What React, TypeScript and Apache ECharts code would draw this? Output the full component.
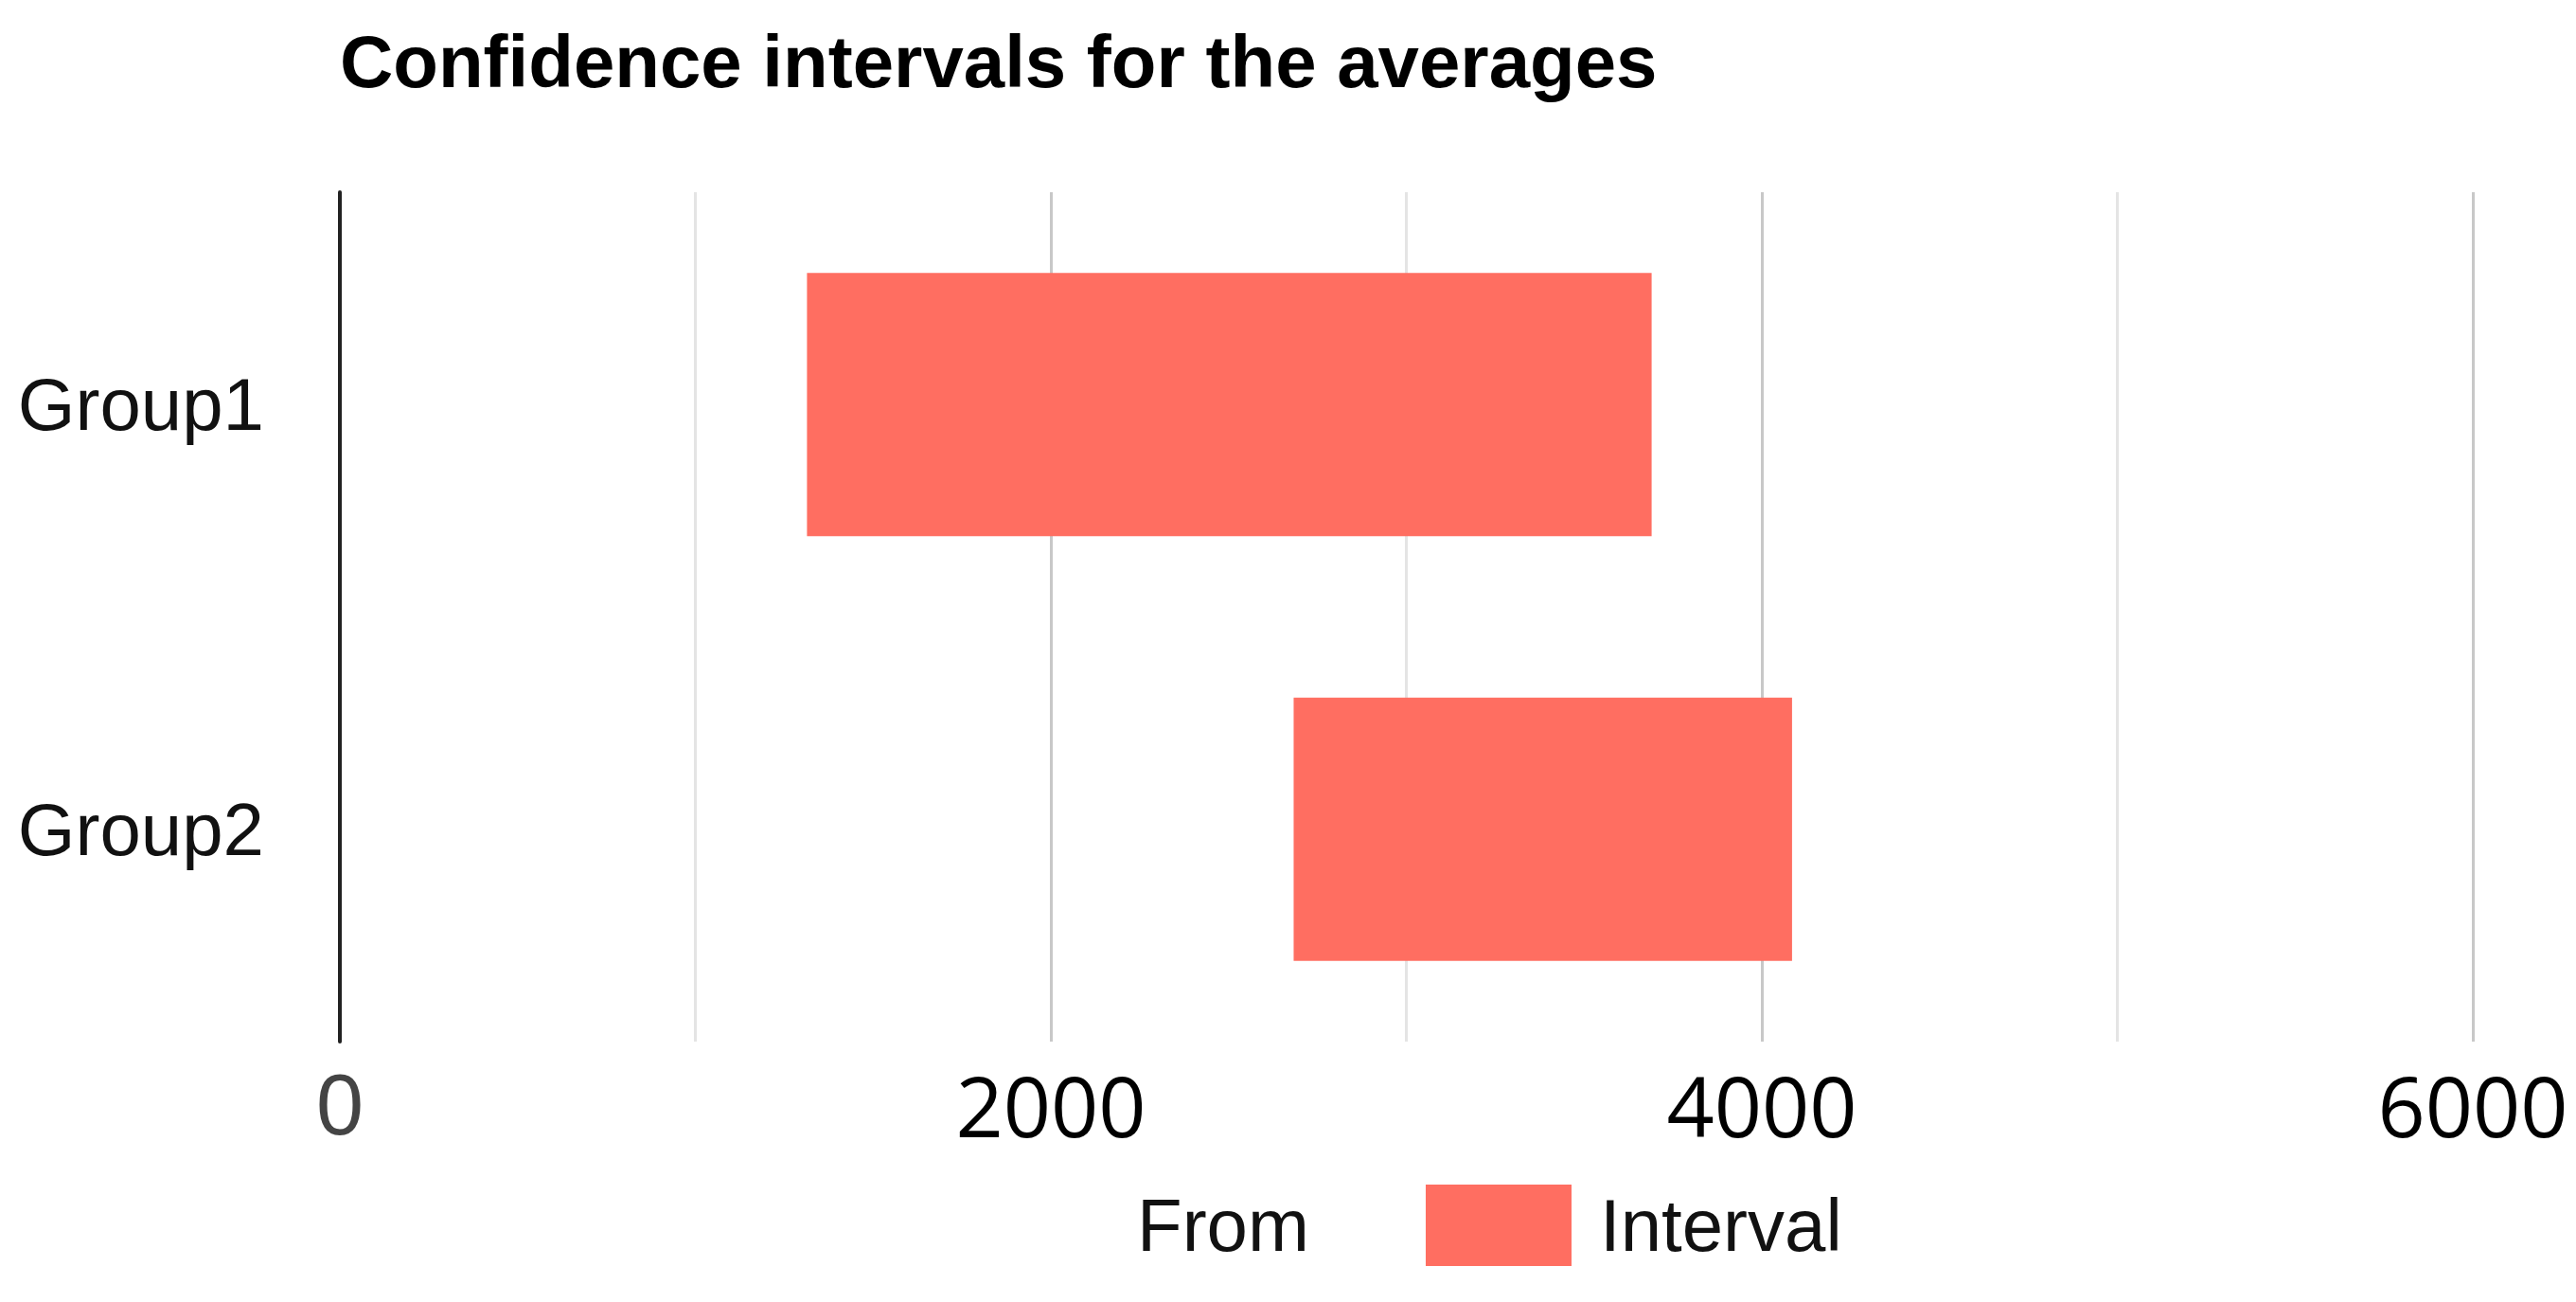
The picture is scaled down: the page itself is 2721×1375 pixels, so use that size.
import React, { useEffect, useRef } from "react";
import * as echarts from "echarts";

const categories = ["Group1", "Group2"];
const fromValues = [1314, 2683];
const intervalValues = [2376, 1402];
const shownTicks = [0, 2000, 4000, 6000];
const titleText = "Confidence intervals for the averages";
const seriesNames = ["From", "Interval"];

const SANS = '"Liberation Sans", Arial, sans-serif';

export default function App() {
  const ref = useRef<HTMLDivElement>(null);
  useEffect(() => {
    if (!ref.current) return;
    const chart = echarts.init(ref.current, null, { renderer: "svg" });
    chart.setOption({
      animation: false,
      backgroundColor: "#ffffff",
      title: {
        text: titleText,
        left: 354,
        top: 21,
        textStyle: {
          fontFamily: SANS,
          fontWeight: "bold",
          fontSize: 78,
          lineHeight: 78,
          color: "#000000",
        },
      },
      legend: {
        data: seriesNames,
        left: 1012,
        top: 1246,
        itemWidth: 154,
        itemHeight: 86,
        itemGap: 123,
        selectedMode: false,
        icon: "rect",
        textStyle: {
          fontFamily: SANS,
          fontSize: 78,
          color: "#111111",
          padding: [0, 0, 0, 25],
        },
      },
      grid: {
        left: 359,
        right: 109,
        top: 203,
        bottom: 275,
        containLabel: false,
        outerBoundsMode: "none",
      },
      xAxis: {
        type: "value",
        min: 0,
        max: 6000,
        interval: 1000,
        axisLine: { show: false },
        axisTick: { show: false },
        splitLine: {
          show: true,
          lineStyle: { color: ["#c8c8c8", "#e4e4e4"], width: 3 },
        },
        axisLabel: {
          margin: 17,
          formatter: (v: number) =>
            v === 0 ? "{zero|0}" : shownTicks.includes(v) ? `{big|${v}}` : "",
          rich: {
            zero: {
              fontFamily: SANS,
              fontSize: 90,
              lineHeight: 100,
              color: "#444444",
            },
            big: {
              fontFamily: '"Open Sans", sans-serif',
              fontSize: 88,
              lineHeight: 100,
              color: "#000000",
            },
          },
        },
      },
      yAxis: {
        type: "category",
        data: categories,
        inverse: true,
        axisLine: { show: true, lineStyle: { color: "#222222", width: 4 } },
        axisTick: { show: false },
        splitLine: { show: false },
        axisLabel: {
          margin: 80,
          fontFamily: SANS,
          fontSize: 78,
          color: "#111111",
        },
      },
      series: [
        {
          name: seriesNames[0],
          type: "bar",
          stack: "ci",
          data: fromValues,
          barWidth: "62%",
          itemStyle: { color: "transparent" },
          emphasis: { disabled: true },
        },
        {
          name: seriesNames[1],
          type: "bar",
          stack: "ci",
          data: intervalValues,
          barWidth: "62%",
          itemStyle: { color: "#ff6e61" },
          emphasis: { disabled: true },
        },
      ],
    });
    return () => chart.dispose();
  }, []);
  return (
    <div
      ref={ref}
      style={{ position: "fixed", left: 0, top: 0, width: 2721, height: 1375 }}
    />
  );
}
